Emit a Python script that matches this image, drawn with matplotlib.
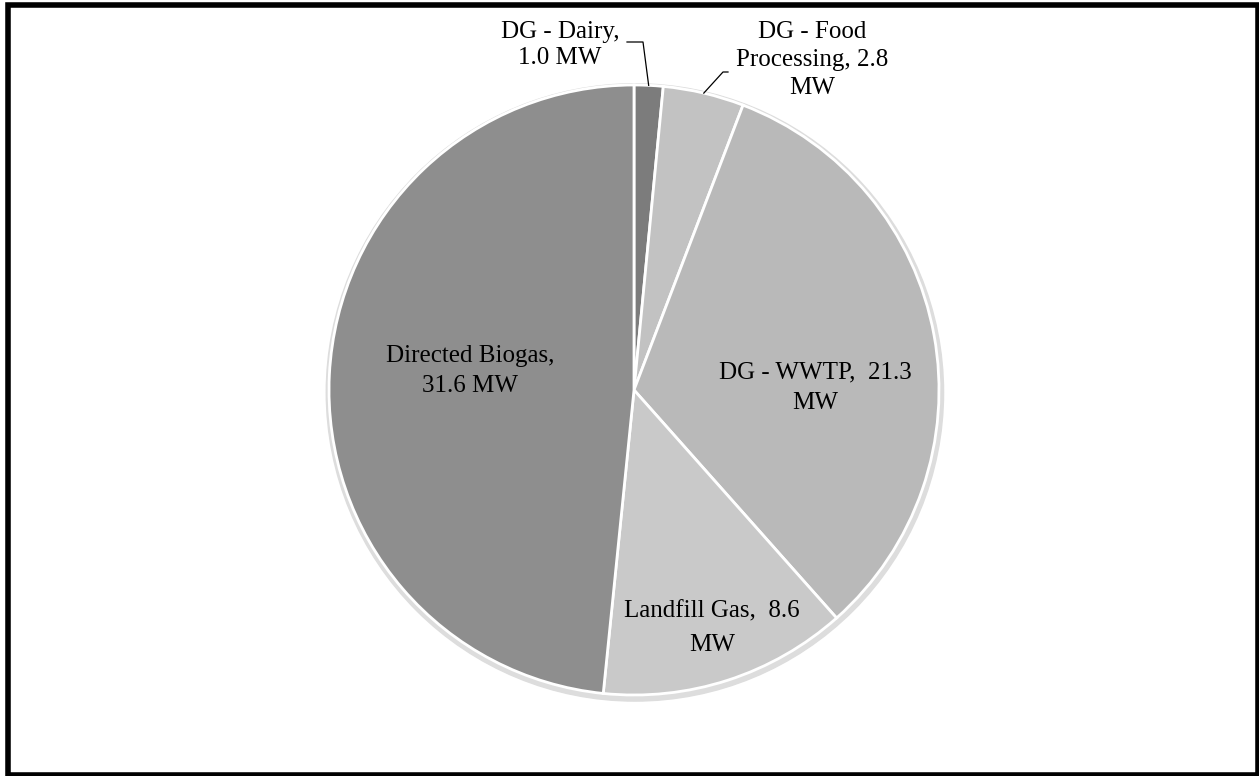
import matplotlib
matplotlib.use("Agg")
import matplotlib.pyplot as plt
import numpy as np
from matplotlib.patches import Circle, Rectangle

# biogas capacity by source (MW)
labels = ["DG - Dairy", "DG - Food Processing", "DG - WWTP", "Landfill Gas", "Directed Biogas"]
values = [1.0, 2.8, 21.3, 8.6, 31.6]
label_text = ["DG - Dairy,\n1.0 MW", "DG - Food\nProcessing, 2.8\nMW",
              "DG - WWTP,  21.3\nMW", "Landfill Gas,  8.6\nMW", "Directed Biogas,\n31.6 MW"]
colors = ["#7c7c7c", "#c2c2c2", "#b9b9b9", "#c9c9c9", "#8e8e8e"]

W, H = 1259, 776
fig = plt.figure(figsize=(W / 100, H / 100), dpi=100)

def px(x, y):
    return x / W, 1 - y / H

cx, cy, r = 634, 390, 305
ax = fig.add_axes([(cx - r) / W, (H - cy - r) / H, 2 * r / W, 2 * r / H])

# faint shadow behind the pie
ax.add_patch(Circle((0.003, -0.008), 1.012, color="#dddddd", zorder=0, clip_on=False))
wedges, _ = ax.pie(values, colors=colors, startangle=90, counterclock=False,
                   wedgeprops=dict(edgecolor="white", linewidth=2))
for w in wedges:
    w.set_zorder(1)
ax.set_xlim(-1, 1)
ax.set_ylim(-1, 1)

font = dict(family="Liberation Serif", size=18, color="black")
# label placement (pixels) and leader elbows
label_pos = [(560, 45), (812, 60), (815, 388), (712, 628), (470, 371)]
spacing = [1.28, 1.38, 1.49, 1.7, 1.44]
for i, t in enumerate(label_text):
    x, y = px(*label_pos[i])
    fig.text(x, y, t, ha="center", va="center", multialignment="center",
             linespacing=spacing[i], **font)

leaders = {0: [(627, 42), (643, 42)], 1: [(728, 72), (723, 72)]}
for i, pts in leaders.items():
    w = wedges[i]
    mid = np.deg2rad((w.theta1 + w.theta2) / 2)
    rim = ax.transData.transform((np.cos(mid), np.sin(mid)))
    rim = fig.transFigure.inverted().transform(rim)
    xs = [px(*p)[0] for p in pts] + [rim[0]]
    ys = [px(*p)[1] for p in pts] + [rim[1]]
    fig.add_artist(plt.Line2D(xs, ys, color="black", linewidth=0.9))

# chart frame
fig.patches.append(Rectangle(px(7.5, 775), 1250.5 / W, 770 / H, fill=False,
                             edgecolor="black", linewidth=4, transform=fig.transFigure))

fig.savefig("out.png", dpi=100)
